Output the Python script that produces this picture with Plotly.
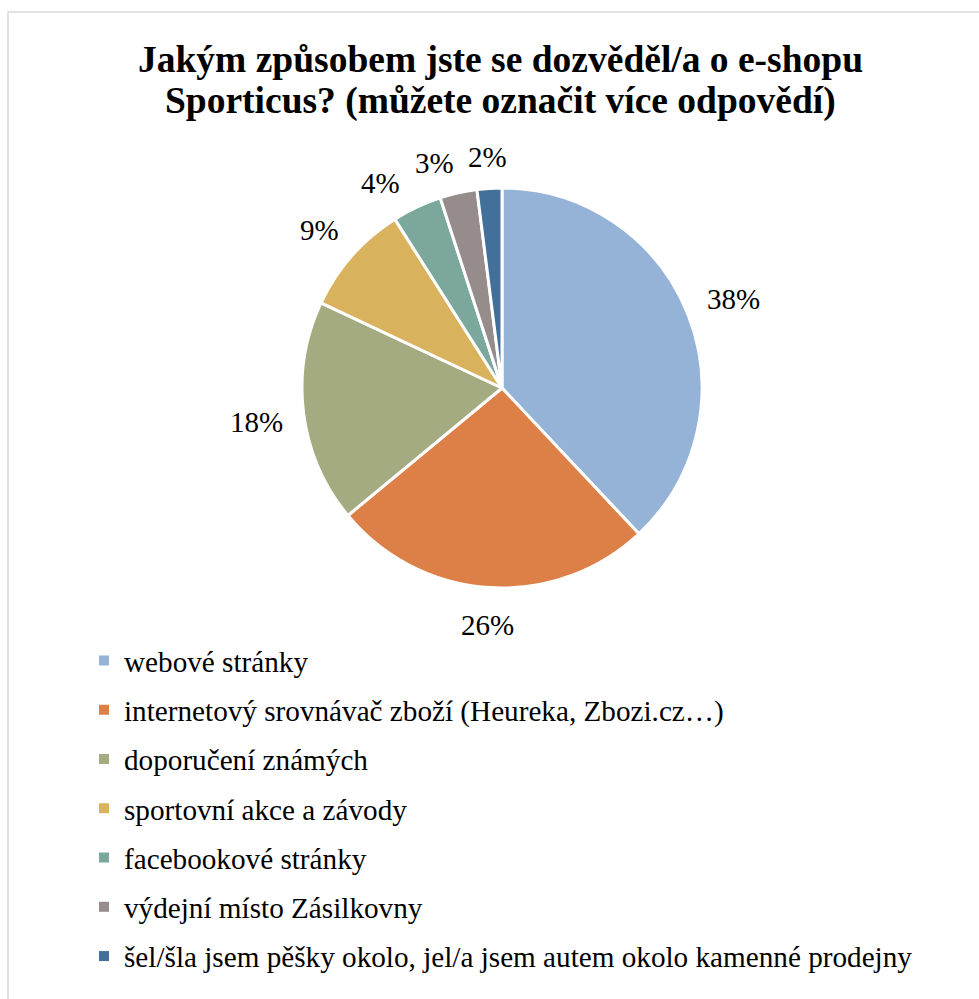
import math
import plotly.graph_objects as go

categories = [
    "webové stránky",
    "internetový srovnávač zboží (Heureka, Zbozi.cz…)",
    "doporučení známých",
    "sportovní akce a závody",
    "facebookové stránky",
    "výdejní místo Zásilkovny",
    "šel/šla jsem pěšky okolo, jel/a jsem autem okolo kamenné prodejny",
]
values = [38, 26, 18, 9, 4, 3, 2]
colors = ["#95B3D7", "#DD8047", "#A5AB81", "#D8B25C", "#7BA79D", "#968C8C", "#42709A"]
title_lines = ["Jakým způsobem jste se dozvěděl/a o e-shopu",
               "Sporticus? (můžete označit více odpovědí)"]

W, H = 979, 999
FONT = "Liberation Serif"
LABEL_SIZE = 29

# pie geometry (pixels)
CX, CY, R = 502, 388, 200
GAP, PAD = 19, 13

fig = go.Figure()
fig.add_trace(go.Pie(
    labels=categories, values=values, sort=False, direction="clockwise",
    rotation=0,
    marker=dict(colors=colors, line=dict(color="white", width=3)),
    textinfo="none",
    domain=dict(x=[(CX - R) / W, (CX + R) / W], y=[1 - (CY + R) / H, 1 - (CY - R) / H]),
    showlegend=False, hoverinfo="label+percent",
))

# percentage labels placed outside the slices (best-fit style), derived from values
total = sum(values)
mids, texts = [], []
cum = 0.0
for v in values:
    mids.append((cum + v / 2) / total * 360.0)
    cum += v
    texts.append(f"{round(v / total * 100)}%")


def box(angle_deg, txt):
    a = math.radians(angle_deg)
    hw = ((len(txt) - 1) * 0.5 + 0.833) * LABEL_SIZE / 2
    hh = 14
    s, c = math.sin(a), math.cos(a)
    d = R + GAP + abs(hw * s) + abs(hh * c)
    x, y = CX + d * s, CY - d * c
    return x, y, hw, hh


placed = {}
prev = None
for i in reversed(range(len(values))):
    ang = mids[i]
    x, y, hw, hh = box(ang, texts[i])
    if prev is not None:
        px, py, phw, phh = prev
        while (abs(x - px) < hw + phw + PAD) and (abs(y - py) < hh + phh + PAD):
            ang -= 0.5
            x, y, hw, hh = box(ang, texts[i])
    placed[i] = (x, y)
    prev = (x, y, hw, hh)

for i, txt in enumerate(texts):
    x, y = placed[i]
    fig.add_annotation(text=txt, xref="paper", yref="paper",
                       x=x / W, y=1 - (y + 3) / H, xanchor="center", yanchor="middle",
                       showarrow=False, font=dict(family=FONT, size=LABEL_SIZE, color="black"))

for cat, col in zip(categories, colors):
    fig.add_trace(go.Scatter(
        x=[None], y=[None], mode="markers", name=cat, legendgroup=cat,
        marker=dict(symbol="square", size=10, color=col),
    ))

for i, line in enumerate(title_lines):
    fig.add_annotation(
        text=f"<b>{line}</b>", xref="paper", yref="paper",
        x=500.5 / W, y=1 - (59 + 42 * i) / H, xanchor="center", yanchor="middle",
        showarrow=False, font=dict(family=FONT, size=37.5, color="black"),
    )

fig.add_shape(type="rect", xref="paper", yref="paper",
              x0=8 / W, y0=1 - 12 / H, x1=1.02, y1=-0.02,
              line=dict(color="#D9D9D9", width=1.5), fillcolor="rgba(0,0,0,0)")

fig.update_layout(
    width=W, height=H, margin=dict(l=0, r=0, t=0, b=0),
    paper_bgcolor="white", plot_bgcolor="white",
    xaxis=dict(visible=False), yaxis=dict(visible=False),
    legend=dict(x=84 / W, y=1 - 635 / H, xanchor="left", yanchor="top",
                font=dict(family=FONT, size=29.2, color="black"),
                tracegroupgap=8.3, bgcolor="rgba(0,0,0,0)"),
)

fig.write_html("out.html")
